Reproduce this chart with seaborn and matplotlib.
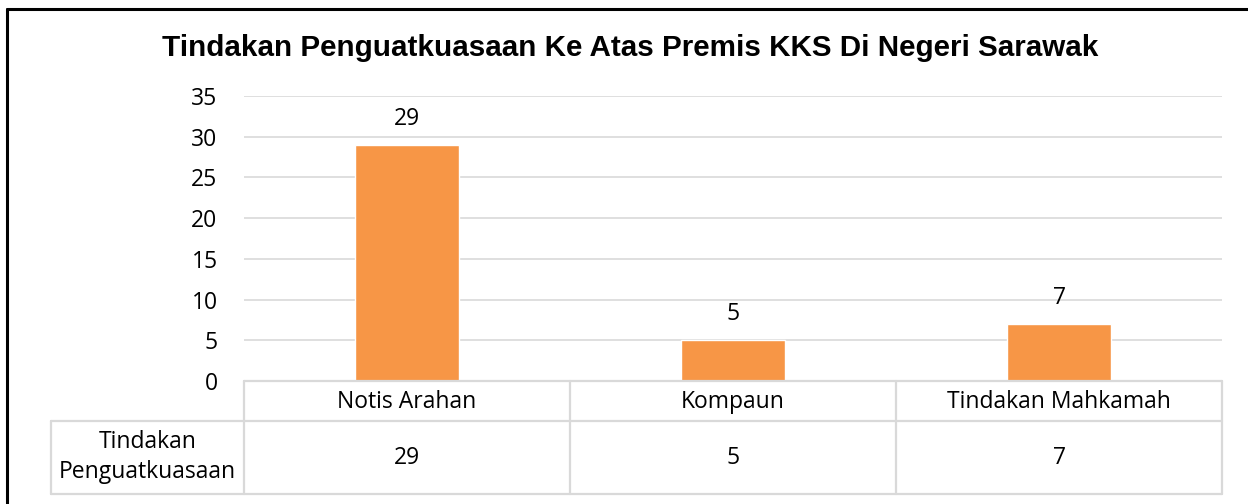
import matplotlib
matplotlib.use("Agg")
import matplotlib.pyplot as plt
import matplotlib.transforms as mtransforms
from matplotlib.lines import Line2D
import seaborn as sns
import pandas as pd

# ---- data ----
title = "Tindakan Penguatkuasaan Ke Atas Premis KKS Di Negeri Sarawak"
categories = ["Notis Arahan", "Kompaun", "Tindakan Mahkamah"]
values = [29, 5, 7]
series_label = "Tindakan\nPenguatkuasaan"
y_ticks = [0, 5, 10, 15, 20, 25, 30, 35]

BAR = "#F79646"
GRID = "#D9D9D9"
FS = 16.5

sns.set_theme(style="white")
plt.rcParams['font.family'] = ['Open Sans', 'DejaVu Sans']

W, H = 1248, 504
fig = plt.figure(figsize=(W / 100, H / 100), dpi=100)
fig.patch.set_facecolor("white")

x0, x1, y0, y1 = 244, 1222, 381, 96
ax = fig.add_axes([x0 / W, 1 - y0 / H, (x1 - x0) / W, (y0 - y1) / H])

df = pd.DataFrame({"cat": categories, "val": values})
sns.barplot(data=df, x="cat", y="val", color=BAR, saturation=1, width=0.32,
            ax=ax, errorbar=None)

ax.set_xlim(-0.5, len(categories) - 0.5)
ax.set_ylim(0, max(y_ticks))
ax.set_yticks(y_ticks)
ax.set_yticklabels([str(t) for t in y_ticks], fontsize=FS, color="black")
ax.set_xticks([])
ax.set_xlabel("")
ax.set_ylabel("")
ax.tick_params(axis="y", length=0, pad=19)
ax.set_axisbelow(True)
ax.yaxis.grid(True, color=GRID, lw=1.2)
for s in ax.spines.values():
    s.set_visible(False)

ax.bar_label(ax.containers[0], labels=[str(v) for v in values], padding=10,
             fontsize=FS, color="black")

# ---- data table ----
def ay(py):
    return (y0 - py) / (y0 - y1)

def axx(px):
    return (px - x0) / (x1 - x0)

trans = mtransforms.blended_transform_factory(ax.transData, ax.transAxes)
r1, r2 = ay(421), ay(494)
hdr_left = axx(51)
lkw = dict(color=GRID, lw=1.6, clip_on=False)

# horizontal lines
ax.add_line(Line2D([0, 1], [0, 0], transform=ax.transAxes, **lkw))
ax.add_line(Line2D([hdr_left, 1], [r1, r1], transform=ax.transAxes, **lkw))
ax.add_line(Line2D([hdr_left, 1], [r2, r2], transform=ax.transAxes, **lkw))
# vertical lines
ax.add_line(Line2D([hdr_left, hdr_left], [r1, r2], transform=ax.transAxes, **lkw))
n = len(categories)
for i in range(n + 1):
    xb = i - 0.5
    ax.add_line(Line2D([xb, xb], [0, r2], transform=trans, **lkw))

for i, (c, v) in enumerate(zip(categories, values)):
    ax.text(i, ay(402), c, transform=trans, ha="center", va="center",
            fontsize=FS, color="black")
    ax.text(i, ay(458), str(v), transform=trans, ha="center", va="center",
            fontsize=FS, color="black")
ax.text((hdr_left + 0) / 2, ay(457), series_label, transform=ax.transAxes,
        ha="center", va="center", fontsize=FS, color="black", linespacing=1.38)

# ---- title ----
fig.text(630 / W, 1 - 48 / H, title, ha="center", va="center",
         fontsize=21.3, fontweight="bold", color="black",
         family=["Liberation Sans", "DejaVu Sans"])

# ---- outer border (left and top only, image cropped) ----
fig.add_artist(Line2D([6.5 / W, 6.5 / W], [0, 1 - 8.5 / H],
                      transform=fig.transFigure, color="black", lw=2.2))
fig.add_artist(Line2D([6.5 / W, 1], [1 - 8.5 / H, 1 - 8.5 / H],
                      transform=fig.transFigure, color="black", lw=2.2))

fig.savefig("out.png", dpi=100, facecolor="white")
